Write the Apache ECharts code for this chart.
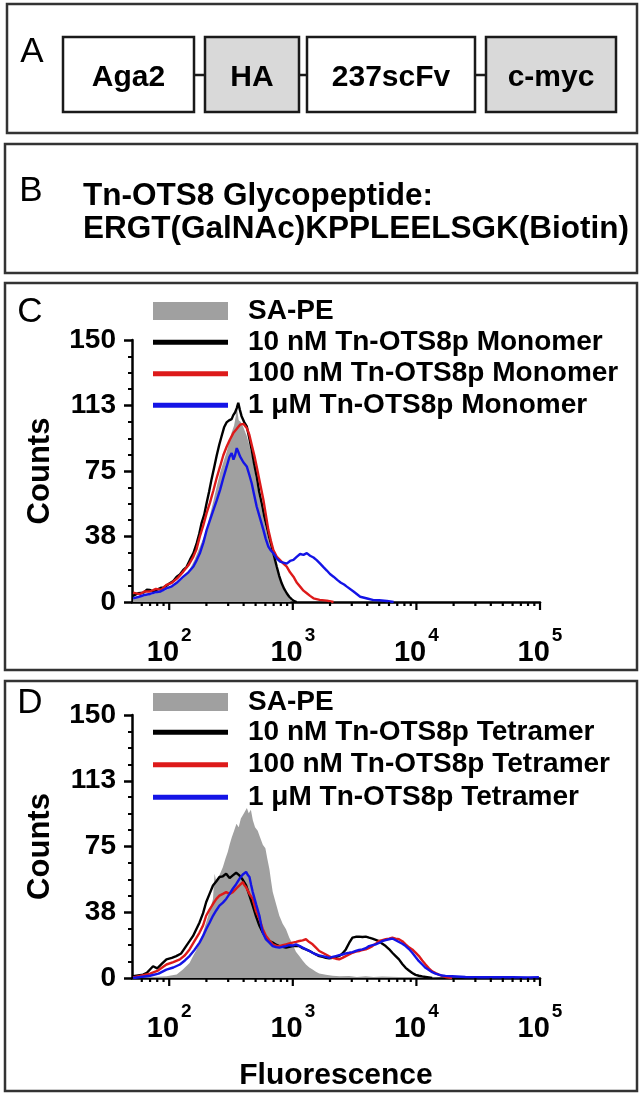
<!DOCTYPE html>
<html><head><meta charset="utf-8">
<script src="https://cdn.jsdelivr.net/npm/echarts@6/dist/echarts.min.js"></script>
<style>html,body{margin:0;padding:0;background:#fff}#c{width:642px;height:1096px}</style>
</head><body><div id="c"></div><script>
// ---------- data ----------
const CONSTRUCT_PARTS = ['Aga2', 'HA', '237scFv', 'c-myc'];
const PEPTIDE_LINES = ['Tn-OTS8 Glycopeptide:', 'ERGT(GalNAc)KPPLEELSGK(Biotin)'];
const Y_TICKS = [0, 38, 75, 113, 150];
const X_MAJOR_TICKS = [100, 1000, 10000, 100000];
const X_MINOR_TICKS = [60,70,80,90,200,300,400,500,600,700,800,900,2000,3000,4000,5000,6000,7000,8000,9000,20000,30000,40000,50000,60000,70000,80000,90000];
const NAMES_C = ['SA-PE', '10 nM Tn-OTS8p Monomer', '100 nM Tn-OTS8p Monomer', '1 \u03bcM Tn-OTS8p Monomer'];
const NAMES_D = ['SA-PE', '10 nM Tn-OTS8p Tetramer', '100 nM Tn-OTS8p Tetramer', '1 \u03bcM Tn-OTS8p Tetramer'];

// Panel C: [fluorescence, counts]
const C_SAPE = [[51,2],[60,3],[70,4],[82,5.5],[95,6.9],[105,8.8],[118,11],[130,13.6],[145,18],[160,24],[177,31.7],[190,37],[201,42],[214,50],[228,58],[242,66],[258,74],[274,80],[292,86],[307,92],[320,97],[335,101],[345,106],[352,113],[358,108],[365,104],[380,103],[398,100],[424,95],[444,90],[465,84],[488,76],[510,68],[535,60],[560,53],[588,46],[615,40],[645,34],[675,29],[707,24],[741,19],[776,14.5],[813,10],[852,6.5],[893,4],[935,2],[975,0.5],[990,0]];
const C_BLACK = [[51,3.4],[56,5],[62,5.4],[66,7],[70,6.9],[75,5.8],[79,6.9],[85,8],[90,8.4],[96,9.5],[101,10.7],[108,12],[115,14.5],[122,15.8],[130,18.4],[138,20],[147,24.1],[157,28],[167,33.7],[175,39],[183,45.3],[192,50],[201,56.8],[210,63],[220,70.2],[231,77],[242,83.7],[254,90],[266,95.2],[278,100],[291,102.8],[305,104],[320,104.7],[330,107],[341,108.5],[352,111],[362,114.1],[373,110],[385,106.4],[404,103],[424,100.6],[444,94],[465,87.2],[487,79],[510,71.9],[535,63],[560,56.6],[588,49],[615,43.2],[645,37],[675,31.7],[707,26],[741,20.3],[776,15],[813,10.7],[852,7.5],[893,5],[935,3],[982,1.5],[1030,0.5],[1076,0]];
const C_RED = [[51,5.4],[58,4.5],[63,6],[70,6],[78,7.5],[86,7],[95,9.8],[105,11],[118,14],[130,17.4],[143,21],[157,26],[166,30],[177,37.5],[189,44],[201,51],[214,57],[228,64],[242,71],[258,77.6],[274,84],[292,89],[310,93],[330,96.7],[351,99],[374,101.5],[398,102],[424,99.6],[444,96],[465,90],[488,84],[510,77.6],[543,68],[578,58.5],[605,50],[634,41.3],[665,35],[696,29.8],[740,26],[789,24],[840,22],[893,20.3],[950,17],[1012,14.5],[1080,11],[1146,8.8],[1220,6.5],[1298,5],[1380,3.5],[1470,2.1],[1650,1.2],[1885,0.8],[2135,0]];
const C_BLUE = [[51,2.1],[57,3],[63,4],[70,4.6],[77,5.5],[85,6],[95,7.8],[105,9],[115,11],[130,14.5],[143,17],[157,20.3],[167,24],[177,27.9],[189,34],[201,41.3],[214,47],[228,52.8],[242,58],[258,64.2],[274,71],[292,77.6],[307,83],[320,85.3],[331,81.5],[341,84],[352,88.1],[362,86],[374,83.4],[398,80],[424,77.6],[444,73],[465,68],[488,61],[510,54.7],[543,48],[578,41.3],[605,36],[634,31.7],[665,29.5],[696,27.9],[740,25],[789,23.1],[840,22.5],[893,22],[950,23.5],[1012,24.1],[1080,26],[1146,27.5],[1220,27],[1298,28],[1380,26.5],[1470,25.5],[1560,24],[1665,22],[1770,20],[1885,18],[2000,16],[2135,14.5],[2300,12.5],[2450,11],[2600,10],[2737,8.8],[3100,6],[3510,3],[4000,2],[4500,1.1],[5000,1],[5770,0.6],[6540,0]];

// Panel D: [fluorescence, counts]
const D_SAPE = [[51,0],[70,0.5],[95,1],[115,2],[129,4.8],[146,8.5],[156,12.5],[166,16],[176,20.2],[188,26],[199,31.7],[212,38],[226,45.1],[233,59.5],[240,55],[248,56.6],[260,60],[272,63.3],[285,68],[298,72],[308,76],[320,80],[335,84],[350,88],[365,86],[380,91],[395,93],[410,95],[425,97],[440,94],[458,96],[475,90],[495,86],[520,84],[545,80],[572,76],[600,74],[622,68],[647,62],[668,55],[688,49],[733,42],[778,35.5],[828,31],[881,27.8],[937,23],[997,19.2],[1060,15],[1128,12.5],[1200,10],[1277,7.7],[1360,6],[1446,4.8],[1538,3.5],[1636,2.5],[1850,1.8],[2096,1.3],[2400,1],[2857,1.2],[3300,0.6],[3892,1],[4500,0.5],[5300,0.8],[7200,0.5],[9800,0.6],[13400,0.3],[16000,0]];
const D_BLACK = [[51,1],[61.5,1.9],[66,3],[74,6.7],[80,5.5],[87,8],[95,10.6],[105,11.5],[114,12.5],[125,14],[137,18.2],[146,21],[156,24],[166,28],[176,31.7],[188,37],[199,43.2],[212,48],[226,52.8],[240,55],[255,57.6],[272,58],[289,59.5],[308,57],[327,58.5],[348,60],[370,58.5],[394,56],[419,52.8],[446,47],[474,41.3],[505,35],[537,29.8],[571,26],[607,23],[646,21],[688,20.2],[732,19],[778,18.2],[828,17.8],[881,17.3],[937,17.8],[997,18.2],[1061,18.2],[1128,18.2],[1200,17],[1277,16.3],[1359,15.5],[1446,14.4],[1538,13.5],[1636,12.5],[1741,12],[1852,11.5],[1970,11.2],[2096,11.5],[2230,12],[2372,12.5],[2523,14],[2685,16.3],[2857,20],[3038,23],[3232,23.5],[3439,23.6],[3658,23.4],[3892,23.6],[4140,23],[4405,22.5],[4687,21.8],[4986,21.1],[5305,19.5],[5643,18.2],[6003,16.5],[6387,14.4],[6795,12.5],[7228,10.6],[7690,8],[8180,5.8],[8702,4.3],[9258,2.9],[9849,1.8],[10480,1.3],[11150,0.9],[11860,0.6],[13420,0]];
const D_RED = [[51,0.4],[70,2.5],[80,4],[95,7.7],[108,9],[122,10.6],[134,13],[146,16.3],[160,21],[176,25.9],[188,30],[199,35.5],[212,39],[226,42.2],[240,45],[255,47],[272,48],[289,49],[308,48],[327,49],[348,51],[370,52.8],[394,54.7],[405,53],[419,51.8],[446,48],[474,45.1],[505,38],[537,33.6],[571,28],[607,24],[646,21.5],[688,19.2],[732,18.5],[778,18.2],[828,18.7],[881,19.2],[937,19.7],[997,20.2],[1061,20.6],[1128,21.1],[1200,21.5],[1277,22.1],[1359,20.5],[1446,19.2],[1538,17.3],[1636,15.4],[1741,14.4],[1852,13.4],[1970,12.4],[2096,11.5],[2230,11],[2372,10.6],[2523,11.5],[2685,12.5],[2857,13.4],[3038,14.4],[3232,15],[3439,15.4],[3658,16],[3892,16.3],[4140,17.2],[4405,18.2],[4687,19.5],[4986,21.1],[5305,21.6],[5643,22.1],[6003,22.5],[6387,23],[6795,22.5],[7228,22.1],[7690,21],[8180,19.2],[8702,17.5],[9258,16.3],[9849,14.5],[10480,12.5],[11150,10],[11860,7.7],[12620,5.5],[13420,3.8],[14280,2.8],[15190,1.9],[16160,1.2],[17190,0.6],[19460,0]];
const D_BLUE = [[51,0],[70,1.3],[82,2.5],[95,4.8],[108,6],[122,7.7],[134,10],[146,12.5],[160,16],[176,20.2],[188,24],[199,27.8],[212,31.5],[226,35.5],[240,38.5],[255,41.3],[272,43],[289,45.1],[308,48],[327,50.9],[348,53.5],[370,56.6],[394,59],[419,60.5],[430,59],[446,57.6],[460,53],[474,49],[505,42],[537,35.5],[555,30],[571,25.9],[607,22],[646,20.2],[688,18.2],[732,17.6],[778,17.3],[828,17.8],[881,18.2],[937,18.7],[997,18.5],[1061,19.2],[1128,18.3],[1200,17.3],[1277,16.3],[1359,15.4],[1446,14.4],[1538,13.4],[1636,12.9],[1741,12.5],[1852,12],[1970,11.5],[2096,12],[2230,12.5],[2372,13],[2523,13.4],[2685,14],[2857,14.4],[3038,14.8],[3232,15.4],[3439,16],[3658,16.3],[3892,17],[4140,18.2],[4405,18.7],[4687,19.2],[4986,20],[5305,21.1],[5643,21.6],[6003,22.1],[6387,22.5],[6795,21.5],[7228,20.5],[7690,19.5],[8180,18.2],[8702,16.5],[9258,14.4],[9849,12],[10480,9.6],[11150,7.7],[11860,5.8],[12620,4.5],[13420,3.3],[14280,2.5],[15190,1.9],[16160,1.4],[17190,1.2],[19460,1],[24930,0.6],[33960,0.4],[46290,0.4],[60000,0.5],[80000,0.3],[98000,0.5]];

// ---------- styling ----------
const FONT = "'Liberation Sans', Arial, sans-serif";
const GRAY = '#a0a0a0', BLACK = '#000000', RED = '#dd1a1a', BLUE = '#1414e6';
const chart = echarts.init(document.getElementById('c'), null, {renderer: 'canvas'});

function powLabel(v) {
  const e = Math.log10(v);
  const r = Math.round(e);
  if (Math.abs(e - r) < 1e-6) return '{b|10}{s|' + r + '}';
  return '';
}
function xAxis(gi, withName) {
  return {
    type: 'log', logBase: 10, gridIndex: gi, min: 50, max: 100000,
    axisLine: {show: true, lineStyle: {color: '#000', width: 2.5}},
    axisTick: {show: false}, minorTick: {show: false},
    splitLine: {show: false}, minorSplitLine: {show: false},
    axisLabel: {
      formatter: powLabel, margin: 24, color: '#000',
      rich: {
        b: {fontSize: 29, fontWeight: 'bold', fontFamily: FONT, color: '#000'},
        s: {fontSize: 19, fontWeight: 'bold', fontFamily: FONT, color: '#000', padding: [0, 0, 34, 2]}
      }
    },
    name: withName ? 'Fluorescence' : '', nameLocation: 'middle', nameGap: 83,
    nameTextStyle: {fontSize: 30, fontWeight: 'bold', fontFamily: FONT, color: '#000'}
  };
}
function yAxis(gi) {
  return {
    type: 'value', gridIndex: gi, min: 0, max: 150, interval: 37.5,
    axisLine: {show: true, lineStyle: {color: '#000', width: 2.5}},
    axisTick: {show: true, length: 8, lineStyle: {color: '#000', width: 2.5}},
    minorTick: {show: true, splitNumber: 4, length: 4, lineStyle: {color: '#000', width: 2}},
    splitLine: {show: false}, minorSplitLine: {show: false},
    axisLabel: {formatter: v => String(Math.round(v)), fontSize: 28, fontWeight: 'bold', fontFamily: FONT, color: '#000', margin: 16},
    name: 'Counts', nameLocation: 'middle', nameGap: 76, nameRotate: 90,
    nameTextStyle: {fontSize: 31, fontWeight: 'bold', fontFamily: FONT, color: '#000'}
  };
}
function tickSeries(gi) {
  const data = X_MAJOR_TICKS.map(v => [v, 0, 1]).concat(X_MINOR_TICKS.map(v => [v, 0, 0]));
  return {
    type: 'custom', xAxisIndex: gi, yAxisIndex: gi, silent: true, clip: false, z: 5,
    encode: {x: 0, y: 1}, data: data,
    renderItem: function (params, api) {
      const p = api.coord([api.value(0), 0]);
      const len = api.value(2) ? 8 : 4;
      return {type: 'line', shape: {x1: p[0], y1: p[1], x2: p[0], y2: p[1] + len}, style: {stroke: '#000', lineWidth: 2.2}};
    }
  };
}
function histSeries(gi, names, sape, k, r, b) {
  const base = {type: 'line', xAxisIndex: gi, yAxisIndex: gi, showSymbol: false, symbol: 'none', smooth: false, silent: true};
  return [
    Object.assign({}, base, {name: names[0], data: sape, color: GRAY, itemStyle: {color: GRAY}, lineStyle: {width: 0, color: GRAY}, areaStyle: {color: GRAY, opacity: 1}, z: 2}),
    Object.assign({}, base, {name: names[1], data: k, color: BLACK, itemStyle: {color: BLACK}, lineStyle: {width: 2.4, color: BLACK}, z: 3}),
    Object.assign({}, base, {name: names[2], data: r, color: RED, itemStyle: {color: RED}, lineStyle: {width: 2.4, color: RED}, z: 3}),
    Object.assign({}, base, {name: names[3], data: b, color: BLUE, itemStyle: {color: BLUE}, lineStyle: {width: 2.4, color: BLUE}, z: 3})
  ];
}
function legend(names, top, h, lh) {
  return {
    data: names, left: 153, top: top, orient: 'vertical', icon: 'rect', selectedMode: false,
    itemWidth: 75, itemHeight: h, itemGap: 0, padding: 0,
    textStyle: {fontSize: 28, fontWeight: 'bold', fontFamily: FONT, color: '#000', lineHeight: lh, padding: [0, 0, 0, 15]}
  };
}

// ---------- panels A/B and frames via graphic ----------
const g = [];
function frame(x, y, w, h) {
  g.push({type: 'rect', shape: {x: x, y: y, width: w, height: h}, style: {fill: 'none', stroke: '#333', lineWidth: 2.5}, z: 1});
}
function label(t, x, y, size, weight, align) {
  g.push({type: 'text', x: x, y: y, style: {text: t, fontSize: size, fontWeight: weight || 'normal', fontFamily: FONT, fill: '#000', align: align || 'center', verticalAlign: 'middle'}, z: 10});
}
frame(7, 4, 630, 129);
frame(5, 144, 632, 129);
frame(5, 283, 632, 387);
frame(5, 681, 632, 410);
label('A', 32, 52, 35);
label('B', 31, 191, 35);
label('C', 30, 312, 35);
label('D', 30, 703, 35);
const boxes = [{x: 63, w: 131, fill: '#ffffff'}, {x: 205, w: 94, fill: '#d9d9d9'}, {x: 307, w: 168, fill: '#ffffff'}, {x: 486, w: 130, fill: '#d9d9d9'}];
boxes.forEach((bx, i) => {
  g.push({type: 'rect', shape: {x: bx.x, y: 37, width: bx.w, height: 75}, style: {fill: bx.fill, stroke: '#1a1a1a', lineWidth: 2.5}, z: 2});
  label(CONSTRUCT_PARTS[i], bx.x + bx.w / 2, 78, 30, 'bold');
  if (i < boxes.length - 1) {
    const nx = boxes[i + 1].x;
    g.push({type: 'line', shape: {x1: bx.x + bx.w, y1: 75, x2: nx, y2: 75}, style: {stroke: '#1a1a1a', lineWidth: 2.5}, z: 2});
  }
});
label(PEPTIDE_LINES[0], 83, 196, 31.5, 'bold', 'left');
label(PEPTIDE_LINES[1], 83, 229, 31.5, 'bold', 'left');

const option = {
  backgroundColor: '#ffffff',
  animation: false,
  textStyle: {fontFamily: FONT},
  grid: [
    {left: 132, top: 340, width: 408, height: 262, containLabel: false},
    {left: 132, top: 715, width: 408, height: 263, containLabel: false}
  ],
  xAxis: [xAxis(0, false), xAxis(1, true)],
  yAxis: [yAxis(0), yAxis(1)],
  legend: [
    legend([NAMES_C[0]], 295.5, 18, 31),
    legend(NAMES_C.slice(1), 326.5, 5, 31.5),
    legend([NAMES_D[0]], 686, 18, 32),
    legend(NAMES_D.slice(1), 716, 5, 32.5)
  ],
  series: histSeries(0, NAMES_C, C_SAPE, C_BLACK, C_RED, C_BLUE)
    .concat(histSeries(1, NAMES_D, D_SAPE, D_BLACK, D_RED, D_BLUE))
    .concat([tickSeries(0), tickSeries(1)]),
  graphic: g
};
chart.setOption(option);
</script></body></html>
